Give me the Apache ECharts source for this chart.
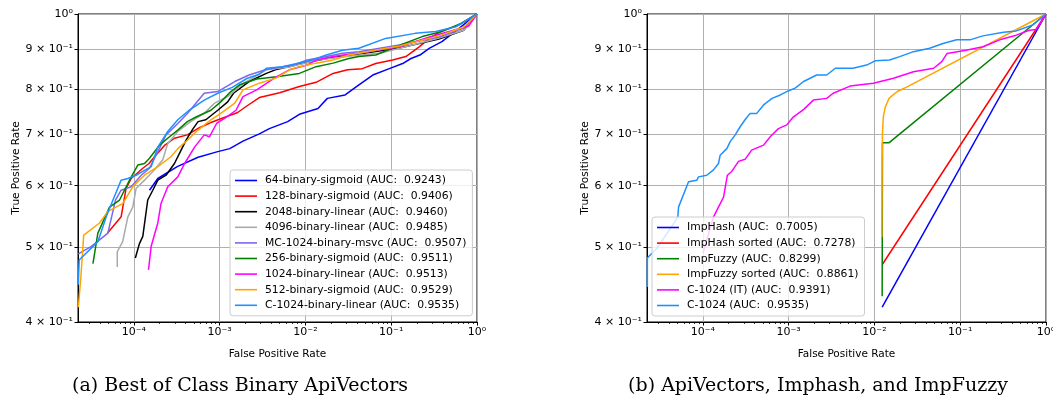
<!DOCTYPE html>
<html>
<head>
<meta charset="utf-8">
<script src="https://cdn.jsdelivr.net/npm/echarts@6/dist/echarts.min.js"></script>
<style>
html, body { margin: 0; padding: 0; background: #fff; }
#chart { width: 1053px; height: 410px; }
</style>
</head>
<body>
<div id="chart"></div>
<script>
// axis ticks
var xMin = 2.23e-5;
var xMajor = [1e-4, 1e-3, 1e-2, 1e-1, 1];
var xMajorLabels = ['10⁻⁴', '10⁻³', '10⁻²', '10⁻¹', '10⁰'];
var xMinor = [];
[1e-5, 1e-4, 1e-3, 1e-2, 1e-1].forEach(function (d) {
    [2, 3, 4, 5, 6, 7, 8, 9].forEach(function (m) { if (d * m > xMin) xMinor.push(d * m); });
});
var yTicks = [0.4, 0.5, 0.6, 0.7, 0.8, 0.9, 1];
var yTickLabels = ['4 × 10⁻¹', '5 × 10⁻¹', '6 × 10⁻¹', '7 × 10⁻¹', '8 × 10⁻¹', '9 × 10⁻¹', '10⁰'];

// (a) best of class binary ApiVectors   [fpr, tpr]
var b64Sigmoid = [[1.52e-4,0.592],[1.9e-4,0.613],[3.2e-4,0.635],[5.6e-4,0.653],[9.5e-4,0.664],[1.31e-3,0.67],[1.87e-3,0.685],[2.9e-3,0.70],[3.8e-3,0.711],[6.2e-3,0.726],[8.5e-3,0.742],[1.4e-2,0.755],[1.8e-2,0.778],[2.9e-2,0.786],[4.2e-2,0.81],[6.1e-2,0.834],[9.5e-2,0.85],[0.136,0.863],[0.17,0.876],[0.216,0.885],[0.277,0.903],[0.39,0.921],[0.617,0.958],[1,1]];
var b128Sigmoid = [[4.9e-5,0.521],[7.1e-5,0.547],[8.1e-5,0.595],[9.3e-5,0.613],[1.27e-4,0.632],[1.5e-4,0.641],[1.74e-4,0.654],[2.3e-4,0.677],[2.97e-4,0.691],[4.2e-4,0.698],[5.8e-4,0.713],[7.9e-4,0.724],[1.13e-3,0.735],[1.62e-3,0.746],[2.05e-3,0.76],[2.9e-3,0.78],[5e-3,0.791],[8.5e-3,0.806],[1.33e-2,0.816],[2.1e-2,0.838],[3.1e-2,0.847],[4.6e-2,0.85],[6.6e-2,0.863],[0.104,0.872],[0.148,0.881],[0.212,0.907],[0.277,0.93],[0.39,0.951],[0.617,0.968],[1,1]];
var b2048Linear = [[1.04e-4,0.484],[1.16e-4,0.505],[1.27e-4,0.516],[1.45e-4,0.575],[1.66e-4,0.592],[1.9e-4,0.61],[2.37e-4,0.619],[2.97e-4,0.641],[3.55e-4,0.667],[4.06e-4,0.687],[4.9e-4,0.711],[5.6e-4,0.726],[6.9e-4,0.73],[9.5e-4,0.751],[1.24e-3,0.77],[1.45e-3,0.79],[2.2e-3,0.818],[3.5e-3,0.838],[4.6e-3,0.848],[8.5e-3,0.862],[1.9e-2,0.877],[4.2e-2,0.888],[0.124,0.904],[0.36,0.928],[0.7,0.953],[1,1]];
var b4096Linear = [[6.4e-5,0.471],[6.4e-5,0.493],[7.4e-5,0.508],[8.5e-5,0.547],[9.7e-5,0.563],[1.06e-4,0.595],[1.33e-4,0.61],[1.74e-4,0.629],[2.17e-4,0.648],[2.48e-4,0.68],[3.25e-4,0.705],[4.6e-4,0.726],[6.6e-4,0.744],[8.7e-4,0.767],[1.24e-3,0.782],[1.87e-3,0.813],[3.5e-3,0.847],[6.5e-3,0.854],[1.4e-2,0.872],[3.2e-2,0.882],[7.3e-2,0.89],[0.16,0.909],[0.36,0.931],[0.7,0.953],[1,1]];
var mc1024Msvc = [[2.25e-5,0.49],[3.2e-5,0.501],[4.97e-5,0.521],[5.5e-5,0.547],[6.1e-5,0.575],[7.1e-5,0.592],[9.3e-5,0.598],[1.22e-4,0.619],[1.52e-4,0.632],[1.9e-4,0.664],[2.37e-4,0.698],[3.25e-4,0.722],[4.2e-4,0.744],[6.6e-4,0.79],[9.5e-4,0.794],[1.5e-3,0.818],[2.2e-3,0.834],[3.5e-3,0.848],[7.2e-3,0.859],[1.05e-2,0.872],[1.75e-2,0.881],[2.7e-2,0.89],[4.2e-2,0.894],[0.124,0.912],[0.36,0.934],[0.7,0.959],[1,1]];
var b256Sigmoid = [[3.33e-5,0.476],[3.8e-5,0.521],[5.2e-5,0.563],[6.8e-5,0.575],[8.9e-5,0.61],[1.11e-4,0.638],[1.33e-4,0.641],[1.52e-4,0.651],[1.99e-4,0.677],[2.6e-4,0.694],[3.25e-4,0.708],[4.2e-4,0.726],[5.3e-4,0.736],[7.9e-4,0.751],[1.03e-3,0.77],[1.35e-3,0.794],[1.71e-3,0.81],[2.7e-3,0.824],[4.6e-3,0.83],[8.5e-3,0.838],[1.33e-2,0.855],[2.1e-2,0.864],[3.2e-2,0.876],[4.2e-2,0.881],[6.6e-2,0.885],[0.113,0.907],[0.23,0.935],[0.39,0.949],[0.66,0.973],[1,1]];
var b1024Linear = [[1.48e-4,0.467],[1.59e-4,0.501],[1.9e-4,0.537],[2.07e-4,0.569],[2.48e-4,0.598],[3.25e-4,0.616],[3.9e-4,0.641],[5.1e-4,0.673],[6.6e-4,0.698],[7.6e-4,0.694],[9.2e-4,0.722],[1.2e-3,0.736],[1.55e-3,0.751],[1.87e-3,0.782],[2.7e-3,0.798],[4.3e-3,0.826],[6.5e-3,0.847],[1.05e-2,0.859],[1.33e-2,0.872],[2.1e-2,0.881],[3.2e-2,0.887],[4.2e-2,0.89],[0.124,0.907],[0.28,0.934],[0.66,0.959],[0.8,0.965],[1,1]];
var b512Sigmoid = [[2.25e-5,0.418],[2.4e-5,0.455],[2.6e-5,0.518],[3.98e-5,0.537],[4.97e-5,0.556],[7.4e-5,0.569],[9.7e-5,0.598],[1.33e-4,0.619],[1.9e-4,0.635],[2.7e-4,0.654],[3.25e-4,0.67],[4.2e-4,0.687],[5.6e-4,0.708],[7.9e-4,0.73],[1.03e-3,0.744],[1.5e-3,0.767],[1.87e-3,0.798],[2.9e-3,0.814],[4.6e-3,0.827],[6.5e-3,0.847],[8.5e-3,0.855],[1.33e-2,0.864],[2.1e-2,0.872],[3.2e-2,0.885],[4.2e-2,0.89],[0.124,0.909],[0.36,0.937],[0.7,0.962],[1,1]];
var c1024Linear = [[2.25e-5,0.447],[2.3e-5,0.481],[3.8e-5,0.508],[4.76e-5,0.547],[5.7e-5,0.575],[7.1e-5,0.61],[8.5e-5,0.613],[1.06e-4,0.619],[1.27e-4,0.626],[1.59e-4,0.635],[1.9e-4,0.673],[2.48e-4,0.705],[3.25e-4,0.73],[4.4e-4,0.751],[6.6e-4,0.774],[9.5e-4,0.79],[1.4e-3,0.804],[2.1e-3,0.826],[2.9e-3,0.836],[3.5e-3,0.851],[5.4e-3,0.855],[1.2e-2,0.872],[1.75e-2,0.885],[2.7e-2,0.898],[4.2e-2,0.903],[8.6e-2,0.93],[0.19,0.944],[0.33,0.949],[0.57,0.963],[1,1]];

// (b) ApiVectors, Imphash, ImpFuzzy   [fpr, tpr]
var impHash = [[0.0123,0.418],[1,1]];
var impHashSorted = [[0.0124,0.475],[1,1]];
var impFuzzy = [[0.0123,0.432],[0.0124,0.682],[0.01485,0.682],[1,1]];
var impFuzzySorted = [[0.0122,0.515],[0.0123,0.65],[0.0124,0.701],[0.0127,0.737],[0.0134,0.759],[0.0148,0.778],[0.0165,0.786],[0.0185,0.794],[0.0213,0.80],[0.0234,0.804],[1,1]];
var c1024IT = [[1e-4,0.491],[1.33e-4,0.547],[1.74e-4,0.58],[1.93e-4,0.619],[2.17e-4,0.626],[2.6e-4,0.645],[3.1e-4,0.649],[3.7e-4,0.667],[5.1e-4,0.677],[6.1e-4,0.694],[7.6e-4,0.711],[9.5e-4,0.719],[1.13e-3,0.736],[1.5e-3,0.753],[1.94e-3,0.774],[2.78e-3,0.778],[3.3e-3,0.79],[5.2e-3,0.807],[9.7e-3,0.814],[1.67e-2,0.826],[2.85e-2,0.842],[4.9e-2,0.851],[6.1e-2,0.868],[7e-2,0.889],[0.117,0.898],[0.184,0.907],[0.289,0.926],[0.45,0.939],[0.64,0.953],[0.77,0.955],[1,1]];
var c1024 = [[2.25e-5,0.444],[2.25e-5,0.484],[2.91e-5,0.498],[4.2e-5,0.529],[5.1e-5,0.547],[5.2e-5,0.563],[6.8e-5,0.607],[8.5e-5,0.61],[8.9e-5,0.616],[1.11e-4,0.619],[1.33e-4,0.629],[1.52e-4,0.641],[1.59e-4,0.657],[1.9e-4,0.67],[2.08e-4,0.684],[2.38e-4,0.698],[2.72e-4,0.715],[3.1e-4,0.73],[3.55e-4,0.744],[4.25e-4,0.744],[5.1e-4,0.763],[6.4e-4,0.778],[8e-4,0.786],[1e-3,0.796],[1.19e-3,0.802],[1.49e-3,0.818],[2.12e-3,0.834],[2.78e-3,0.834],[3.5e-3,0.851],[5.6e-3,0.851],[8.1e-3,0.859],[1.02e-2,0.87],[1.5e-2,0.872],[1.97e-2,0.881],[2.85e-2,0.894],[4.4e-2,0.903],[6.3e-2,0.916],[9.1e-2,0.926],[0.13,0.926],[0.184,0.937],[0.32,0.947],[0.45,0.951],[0.7,0.968],[1,1]];

var leftNames = ['64-binary-sigmoid (AUC:  0.9243)', '128-binary-sigmoid (AUC:  0.9406)', '2048-binary-linear (AUC:  0.9460)',
    '4096-binary-linear (AUC:  0.9485)', 'MC-1024-binary-msvc (AUC:  0.9507)', '256-binary-sigmoid (AUC:  0.9511)',
    '1024-binary-linear (AUC:  0.9513)', '512-binary-sigmoid (AUC:  0.9529)', 'C-1024-binary-linear (AUC:  0.9535)'];
var leftData = [b64Sigmoid, b128Sigmoid, b2048Linear, b4096Linear, mc1024Msvc, b256Sigmoid, b1024Linear, b512Sigmoid, c1024Linear];
var leftColors = ['#0000ff', '#ff0000', '#000000', '#a9a9a9', '#7b68ee', '#008000', '#ff00ff', '#ffa500', '#1e90ff'];

var rightNames = ['ImpHash (AUC:  0.7005)', 'ImpHash sorted (AUC:  0.7278)', 'ImpFuzzy (AUC:  0.8299)',
    'ImpFuzzy sorted (AUC:  0.8861)', 'C-1024 (IT) (AUC:  0.9391)', 'C-1024 (AUC:  0.9535)'];
var rightData = [impHash, impHashSorted, impFuzzy, impFuzzySorted, c1024IT, c1024];
var rightColors = ['#0000ff', '#ff0000', '#008000', '#ffa500', '#ff00ff', '#1e90ff'];

var FONT = 'DejaVu Sans';

function pickLabel(ticks, labels, v) {
    var best = 0;
    for (var i = 1; i < ticks.length; i++) {
        if (Math.abs(Math.log(ticks[i] / v)) < Math.abs(Math.log(ticks[best] / v))) best = i;
    }
    return labels[best];
}

function mainX(gi) {
    return {
        type: 'log', logBase: 10, gridIndex: gi, min: xMin, max: 1, position: 'bottom',
        name: 'False Positive Rate', nameLocation: 'middle', nameGap: 27,
        nameTextStyle: { fontFamily: FONT, fontSize: 10.5, color: '#000' },
        axisLine: { lineStyle: { color: '#000', width: 1 } },
        axisTick: { customValues: xMajor, length: 3.5, lineStyle: { color: '#000', width: 1 } },
        axisLabel: {
            customValues: xMajor, margin: 5, color: '#000', fontFamily: FONT, fontSize: 11,
            formatter: function (v) { return pickLabel(xMajor, xMajorLabels, v); }
        },
        splitLine: { show: true, lineStyle: { color: '#b0b0b0', width: 1 } }
    };
}
function minorX(gi) {
    return {
        type: 'log', logBase: 10, gridIndex: gi, min: xMin, max: 1, position: 'bottom',
        axisLine: { show: false },
        axisTick: { customValues: xMinor, length: 2, lineStyle: { color: '#000', width: 0.8 } },
        axisLabel: { show: false },
        splitLine: { show: false }
    };
}
function mainY(gi) {
    return {
        type: 'log', logBase: 10, gridIndex: gi, min: 0.4, max: 1,
        name: 'True Positive Rate', nameLocation: 'middle', nameGap: 56,
        nameTextStyle: { fontFamily: FONT, fontSize: 10.5, color: '#000' },
        axisLine: { lineStyle: { color: '#000', width: 1 } },
        axisTick: { customValues: yTicks, length: 3.5, lineStyle: { color: '#000', width: 1 } },
        axisLabel: {
            customValues: yTicks, margin: 5, color: '#000', fontFamily: FONT, fontSize: 11,
            formatter: function (v) { return pickLabel(yTicks, yTickLabels, v); }
        },
        splitLine: { show: true, lineStyle: { color: '#b0b0b0', width: 1 } }
    };
}
function legendFor(names, left, top) {
    return {
        data: names, orient: 'vertical', left: left, top: top, selectedMode: false,
        icon: 'rect', itemWidth: 22, itemHeight: 1.6, itemGap: 2.6, padding: [4, 6, 4, 5],
        backgroundColor: 'rgba(255,255,255,0.8)', borderColor: '#cccccc', borderWidth: 1, borderRadius: 3,
        textStyle: { fontFamily: FONT, fontSize: 10.8, color: '#000', lineHeight: 13, padding: [0, 0, 0, 3] }
    };
}

var series = [];
leftData.forEach(function (d, i) {
    series.push({ name: leftNames[i], type: 'line', xAxisIndex: 0, yAxisIndex: 0, data: d, symbol: 'none',
        color: leftColors[i], lineStyle: { width: 1.5, color: leftColors[i] } });
});
rightData.forEach(function (d, i) {
    series.push({ name: rightNames[i], type: 'line', xAxisIndex: 2, yAxisIndex: 1, data: d, symbol: 'none',
        color: rightColors[i], lineStyle: { width: 1.5, color: rightColors[i] } });
});

var chart = echarts.init(document.getElementById('chart'));
chart.setOption({
    animation: false,
    backgroundColor: '#ffffff',
    grid: [
        { left: 78, top: 14, width: 399, height: 308, show: true, borderColor: '#000', borderWidth: 1, outerBoundsMode: 'none' },
        { left: 647, top: 14, width: 399, height: 308, show: true, borderColor: '#000', borderWidth: 1, outerBoundsMode: 'none' }
    ],
    xAxis: [mainX(0), minorX(0), mainX(1), minorX(1)],
    yAxis: [mainY(0), mainY(1)],
    legend: [legendFor(leftNames, 230, 170), legendFor(rightNames, 652, 217)],
    graphic: [
        { type: 'text', x: 240, y: 386, style: { text: '(a) Best of Class Binary ApiVectors', align: 'center', verticalAlign: 'middle',
            font: '19px "DejaVu Serif"', fill: '#000' } },
        { type: 'text', x: 818, y: 386, style: { text: '(b) ApiVectors, Imphash, and ImpFuzzy', align: 'center', verticalAlign: 'middle',
            font: '19px "DejaVu Serif"', fill: '#000' } }
    ],
    series: series
});
</script>
</body>
</html>
